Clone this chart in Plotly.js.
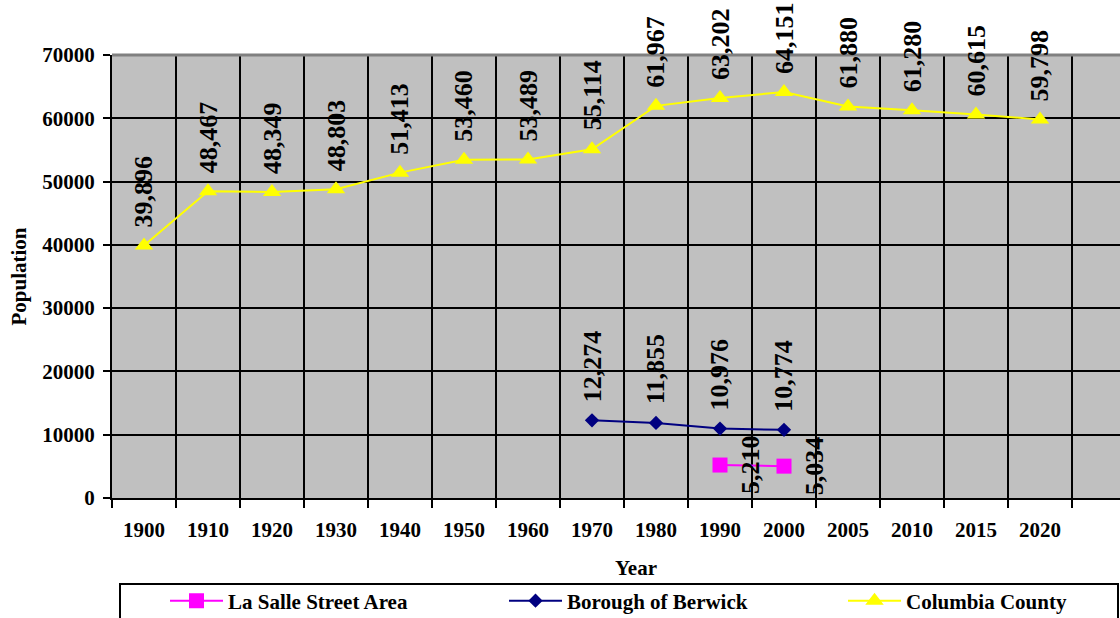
<!DOCTYPE html>
<html>
<head>
<meta charset="utf-8">
<script src="https://cdn.plot.ly/plotly-3.0.1.min.js"></script>
<style>
html,body{margin:0;padding:0;overflow:hidden;background:#fff;}
#chart{width:1200px;height:660px;}
</style>
</head>
<body>
<div id="chart"></div>
<script>
var years = ['1900','1910','1920','1930','1940','1950','1960','1970','1980','1990','2000','2005','2010','2015','2020'];
var columbiaYears = years;
var columbiaValues = [39896,48467,48349,48803,51413,53460,53489,55114,61967,63202,64151,61880,61280,60615,59798];
var berwickYears = ['1970','1980','1990','2000'];
var berwickValues = [12274,11855,10976,10774];
var lasalleYears = ['1990','2000'];
var lasalleValues = [5210,5034];
var yTicks = [0,10000,20000,30000,40000,50000,60000,70000];

var FONT = 'Liberation Serif, Times New Roman, serif';
var W = 1200, H = 660, ML = 112, MR = 64, MT = 55, MB = 162;
var PW = W - ML - MR, PH = H - MT - MB;
function fmt(v){ return v.toLocaleString('en-US'); }
function px(x){ return (x - ML) / PW; }
function py(y){ return (MT + PH - y) / PH; }

var traces = [
  {name:'La Salle Street Area', x:lasalleYears, y:lasalleValues, type:'scatter', mode:'lines+markers',
   line:{color:'#FF00FF', width:2}, marker:{symbol:'square', size:15, color:'#FF00FF'}},
  {name:'Borough of Berwick', x:berwickYears, y:berwickValues, type:'scatter', mode:'lines+markers',
   line:{color:'#000080', width:2}, marker:{symbol:'diamond', size:11, color:'#000080'}},
  {name:'Columbia County', x:columbiaYears, y:columbiaValues, type:'scatter', mode:'lines+markers',
   line:{color:'#FFFF00', width:2}, marker:{symbol:'triangle-up', size:16, color:'#FFFF00'}}
];

var annotations = [];
function addLabels(xs, vs, xshift, yshift){
  for (var i=0;i<xs.length;i++){
    annotations.push({x:years.indexOf(xs[i]), y:vs[i], xref:'x', yref:'y', text:fmt(vs[i]), showarrow:false,
      textangle:-90, xanchor:'center', yanchor:'middle', xshift:xshift, yshift:yshift,
      font:{family:FONT, size:26, color:'#000', weight:'bold'}});
  }
}
addLabels(columbiaYears, columbiaValues, 0, 54);
addLabels(berwickYears, berwickValues, 0, 54);
addLabels(lasalleYears, lasalleValues, 30, 0);

annotations.push({text:'Year', xref:'paper', yref:'paper', x:px(636), y:py(568),
  showarrow:false, xanchor:'center', yanchor:'middle', font:{family:FONT, size:21, color:'#000', weight:'bold'}});
annotations.push({text:'Population', xref:'paper', yref:'paper', x:px(18), y:0.5, textangle:-90,
  showarrow:false, xanchor:'center', yanchor:'middle', font:{family:FONT, size:21, color:'#000', weight:'bold'}});

var layout = {
  width:W, height:H,
  margin:{l:ML, r:MR, t:MT, b:MB},
  paper_bgcolor:'#FFFFFF', plot_bgcolor:'#C0C0C0',
  font:{family:FONT, color:'#000'},
  showlegend:true,
  legend:{orientation:'h', x:px(165), y:py(601), xanchor:'left', yanchor:'middle',
    itemwidth:53, entrywidth:271, entrywidthmode:'pixels', bgcolor:'rgba(0,0,0,0)', borderwidth:0,
    font:{family:FONT, size:21, color:'#000', weight:'bold'}, traceorder:'normal'},
  xaxis:{type:'category', categoryorder:'array', categoryarray:years, range:[-0.5,15.5],
    tickson:'boundaries', ticks:'outside', ticklen:8, tickwidth:2, tickcolor:'#000',
    showgrid:true, gridcolor:'#000', gridwidth:2, showline:true, linecolor:'#000', linewidth:2,
    zeroline:false, ticklabelstandoff:12,
    tickfont:{family:FONT, size:21, color:'#000', weight:'bold'}, fixedrange:true},
  yaxis:{range:[0,70000], tickvals:yTicks, ticktext:yTicks.map(String), ticks:'outside', ticklen:7, tickwidth:2,
    tickcolor:'#000', showgrid:true, gridcolor:'#000', gridwidth:2, showline:true, linecolor:'#000', linewidth:2,
    zeroline:false, ticklabelstandoff:4,
    tickfont:{family:FONT, size:21, color:'#000', weight:'bold'}, fixedrange:true},
  annotations:annotations,
  shapes:[
    {type:'line', xref:'paper', yref:'paper', x0:0, x1:1, y0:1, y1:1, line:{color:'#808080', width:3}, layer:'above'},
    {type:'rect', xref:'paper', yref:'paper', x0:px(120), x1:px(1118), y0:py(584), y1:py(650),
     line:{color:'#000', width:2}, fillcolor:'rgba(0,0,0,0)', layer:'above'}
  ]
};

Plotly.newPlot('chart', traces, layout, {staticPlot:true, displayModeBar:false});
</script>
</body>
</html>
